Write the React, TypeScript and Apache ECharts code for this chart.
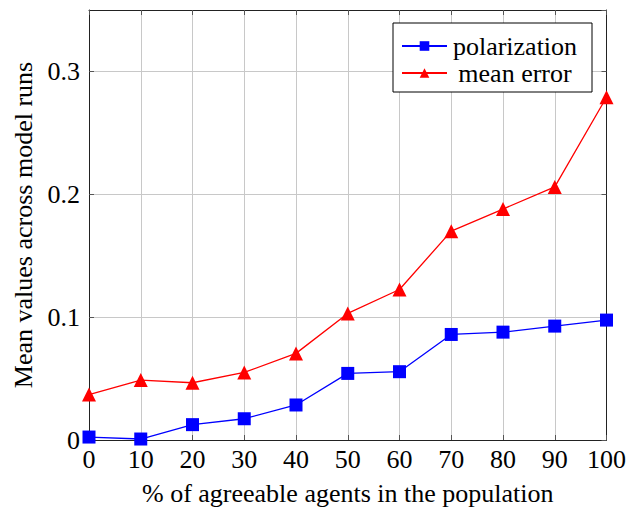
import React, { useEffect, useRef } from "react";
import * as echarts from "echarts";

const xValues = [0, 10, 20, 30, 40, 50, 60, 70, 80, 90, 100];
const polarization = [0.0024, 0.0008, 0.0125, 0.0173, 0.0285, 0.0542, 0.0556, 0.0859, 0.0878, 0.0927, 0.0976];
const meanError = [0.037, 0.0488, 0.0466, 0.055, 0.0705, 0.103, 0.1225, 0.170, 0.188, 0.206, 0.279];
const yTicks = [0, 0.1, 0.2, 0.3];

const FONT = "Liberation Serif";

export default function App() {
  const ref = useRef<HTMLDivElement>(null);
  useEffect(() => {
    if (!ref.current) return;
    const chart = echarts.init(ref.current, undefined, { renderer: "svg" });
    const fmtY = (v: number) => {
      const m = yTicks.find((t) => Math.abs(t - v) < 1e-9);
      return m === undefined ? "" : String(m);
    };
    const baseX = { type: "value", min: 0, max: 100, interval: 10 };
    const baseY = { type: "value", min: 0, max: 0.35, interval: 0.1 };
    const axLine = { show: true, onZero: false, lineStyle: { color: "#222", width: 1 } };
    const axTick = { show: true, inside: true, length: 5, lineStyle: { color: "#555" } };
    const txt = { fontFamily: FONT, fontSize: 26, color: "#000", fontWeight: "normal" };
    chart.setOption({
      animation: false,
      backgroundColor: "#ffffff",
      textStyle: { fontFamily: FONT },
      grid: { left: 89, top: 10, right: 20, bottom: 72, containLabel: false },
      legend: {
        orient: "vertical",
        right: 37,
        top: 23,
        itemWidth: 45,
        itemHeight: 12,
        itemGap: 1,
        padding: [10, 14, 6, 8],
        borderColor: "#000",
        borderWidth: 1,
        backgroundColor: "#fff",
        formatter: (n: string) => "{s|" + n + "}",
        textStyle: { ...txt, lineHeight: 26, rich: { s: { ...txt, lineHeight: 26, width: 126, align: "center" } } },
        data: ["polarization", "mean error"],
      },
      xAxis: [
        {
          ...baseX,
          position: "bottom",
          name: "% of agreeable agents in the population",
          nameLocation: "middle",
          nameGap: 40,
          nameTextStyle: txt,
          axisLine: axLine,
          axisTick: axTick,
          axisLabel: { ...txt, margin: 6 },
          splitLine: { show: true, lineStyle: { color: "#c8c8c8", width: 1 } },
        },
        {
          ...baseX,
          position: "top",
          axisLine: axLine,
          axisTick: axTick,
          axisLabel: { show: false },
          splitLine: { show: false },
        },
      ],
      yAxis: [
        {
          ...baseY,
          position: "left",
          name: "Mean values across model runs",
          nameLocation: "middle",
          nameGap: 49,
          nameTextStyle: txt,
          axisLine: axLine,
          axisTick: axTick,
          axisLabel: { ...txt, margin: 9, formatter: fmtY, showMaxLabel: false },
          splitLine: { show: true, lineStyle: { color: "#c8c8c8", width: 1 } },
        },
        {
          ...baseY,
          position: "right",
          axisLine: axLine,
          axisTick: axTick,
          axisLabel: { show: false },
          splitLine: { show: false },
        },
      ],
      series: [
        {
          name: "polarization",
          type: "line",
          data: xValues.map((x, i) => [x, polarization[i]]),
          symbol: "rect",
          symbolSize: 13,
          itemStyle: { color: "#0000ff" },
          lineStyle: { color: "#0000ff", width: 1.3 },
          z: 3,
        },
        {
          name: "mean error",
          type: "line",
          data: xValues.map((x, i) => [x, meanError[i]]),
          symbol: "triangle",
          symbolSize: 14,
          itemStyle: { color: "#ff0000" },
          lineStyle: { color: "#ff0000", width: 1.3 },
          z: 3,
        },
      ],
    });
    return () => chart.dispose();
  }, []);
  return <div ref={ref} style={{ width: 629, height: 512, position: "absolute", left: 0, top: 0 }} />;
}
